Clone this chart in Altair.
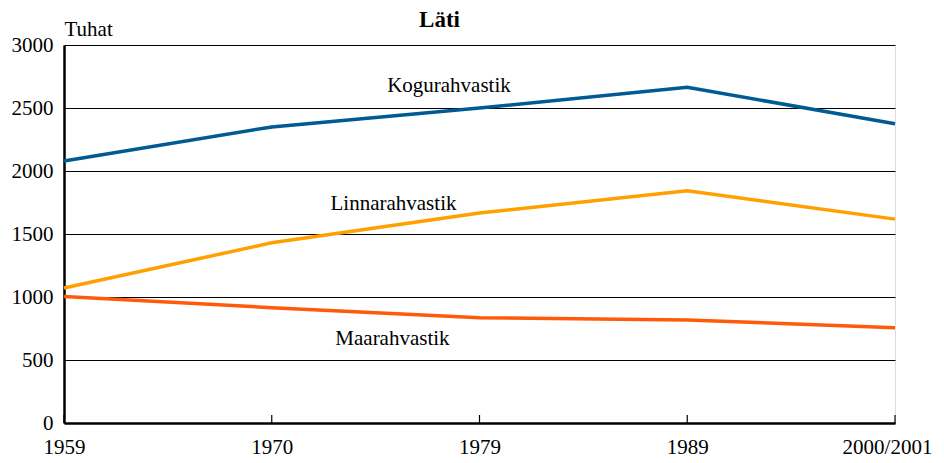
import altair as alt
import pandas as pd

periods = ["1959", "1970", "1979", "1989", "2000/2001"]
kogu = [2080, 2350, 2500, 2665, 2375]
linna = [1072, 1430, 1667, 1843, 1618]
maa = [1003, 915, 836, 818, 756]
series_names = ["Kogurahvastik", "Linnarahvastik", "Maarahvastik"]
colors = ["#005A93", "#FFA000", "#FF5A0A"]

label_x = [1.853, 1.586, 1.581]
label_y = [2627, 1690, 619]

rows = []
for name, vals in zip(series_names, [kogu, linna, maa]):
    for i, v in enumerate(vals):
        rows.append({"idx": i, "period": periods[i], "value": v, "series": name})
df = pd.DataFrame(rows)
lab = pd.DataFrame({"series": series_names, "x": label_x, "y": label_y})
ticks = pd.DataFrame({"idx": list(range(len(periods)))})

W, H = 831, 378
FONT = "Liberation Serif"

label_expr = "[" + ",".join(f"'{p}'" for p in periods) + "][datum.value]"

xscale = alt.Scale(domain=[0, len(periods) - 1], nice=False, zero=False)
yscale = alt.Scale(domain=[0, 3000], nice=False)

xaxis = alt.Axis(values=list(range(len(periods))), labelExpr=label_expr, title=None,
                 grid=False, ticks=False, domainColor="black", domainWidth=2.5,
                 labelFont=FONT, labelFontSize=21, labelColor="black", labelPadding=13,
                 labelOffset={"condition": {"test": "datum.value == 4", "value": -8}, "value": 0},
                 labelOverlap=False, labelBound=False, labelFlush=False)
yaxis = alt.Axis(values=[0, 500, 1000, 1500, 2000, 2500, 3000], format="d", title="Tuhat",
                 titleAngle=0, titleX=0, titleY=-6, titleAlign="left", titleBaseline="bottom",
                 titleFont=FONT, titleFontSize=21, titleFontWeight="normal", titleColor="black",
                 grid=True, gridColor="black", gridWidth=1, ticks=False,
                 domainColor="black", domainWidth=2.5,
                 labelFont=FONT, labelFontSize=21, labelColor="black", labelPadding=11)

lines = alt.Chart(df).mark_line(strokeWidth=3.5).encode(
    x=alt.X("idx:Q", scale=xscale, axis=xaxis),
    y=alt.Y("value:Q", scale=yscale, axis=yaxis),
    color=alt.Color("series:N", scale=alt.Scale(domain=series_names, range=colors), legend=None),
)

tick_rules = alt.Chart(ticks).mark_rule(color="black", strokeWidth=1.2).encode(
    x=alt.X("idx:Q", scale=xscale),
    y=alt.value(H - 8),
    y2=alt.value(H),
)

texts = alt.Chart(lab).mark_text(font=FONT, fontSize=21, color="black", align="center",
                                 baseline="alphabetic").encode(
    x=alt.X("x:Q", scale=xscale),
    y=alt.Y("y:Q", scale=yscale),
    text="series:N",
)

chart = alt.layer(tick_rules, lines, texts).properties(
    width=W, height=H,
    title=alt.TitleParams("Läti", font=FONT, fontSize=23, fontWeight="bold", color="black",
                          anchor="middle", dx=-40, offset=-14),
    autosize=alt.AutoSizeParams(type="none"),
    padding={"left": 56, "top": 37, "right": 41, "bottom": 40},
).configure_view(stroke="black", strokeWidth=1.5).configure(background="white")

chart.save("out.html", embed_options={"renderer": "svg", "actions": False})
